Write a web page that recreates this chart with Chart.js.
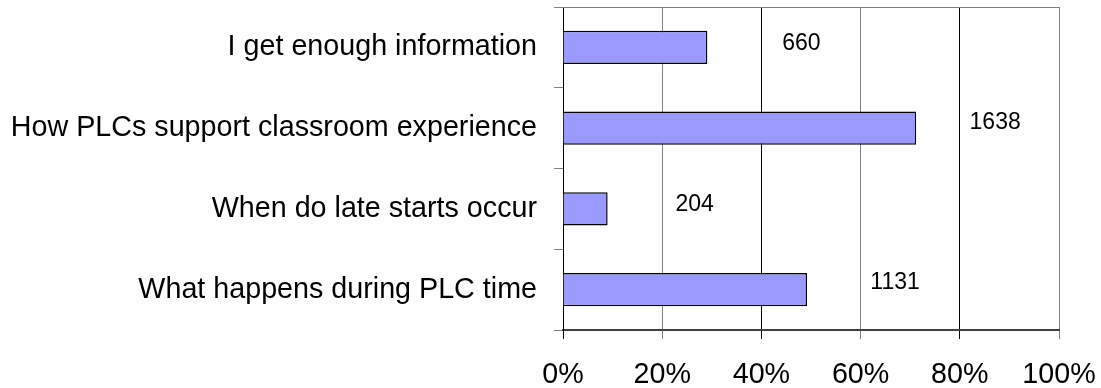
<!DOCTYPE html>
<html>
<head>
<meta charset="utf-8">
<script src="https://cdn.jsdelivr.net/npm/chart.js@4/dist/chart.umd.min.js"></script>
<style>
    body { margin: 0; background: #fff; }
    canvas { display: block; }
</style>
</head>
<body>
<canvas id="plcChart" width="1101" height="388"></canvas>
<script>
// Survey questions, share of respondents (%) and number of responses
const questions = ["I get enough information", "How PLCs support classroom experience", "When do late starts occur", "What happens during PLC time"];
const percentages = [29.1, 71.2, 9.0, 49.2];
const responses = [660, 1638, 204, 1131];
const xTicks = [0, 20, 40, 60, 80, 100];

const fontFamily = "'Liberation Sans', Arial, sans-serif";

// Count labels sit to the right of each bar, nudged a little per row
const countLabels = {
    id: 'countLabels',
    afterDatasetsDraw(chart, args, opts) {
        let ctx = chart.ctx;
        let meta = chart.getDatasetMeta(0);
        ctx.save();
        ctx.font = '23px ' + fontFamily;
        ctx.fillStyle = '#000';
        ctx.textAlign = 'center';
        ctx.textBaseline = 'middle';
        meta.data.forEach((bar, i) => {
            ctx.fillText(String(responses[i]), bar.x + opts.dx[i], bar.y + opts.dy[i]);
        });
        ctx.restore();
    }
};

// Thin grey line closing the top of the plot area
const topBorder = {
    id: 'topBorder',
    afterDraw(chart) {
        let ctx = chart.ctx;
        let area = chart.chartArea;
        ctx.save();
        ctx.strokeStyle = '#808080';
        ctx.lineWidth = 1;
        ctx.beginPath();
        ctx.moveTo(area.left, Math.round(area.top) + 0.5);
        ctx.lineTo(area.right, Math.round(area.top) + 0.5);
        ctx.stroke();
        ctx.restore();
    }
};

// Keep the plot box fixed; labels are allowed to hang over the edges
function noPadding(scale) {
    scale.paddingTop = 0;
    scale.paddingBottom = 0;
    scale.paddingLeft = 0;
    scale.paddingRight = 0;
}

new Chart(document.getElementById('plcChart'), {
    type: 'bar',
    data: {
        labels: questions,
        datasets: [{
            data: percentages,
            backgroundColor: '#9999FF',
            borderColor: '#000',
            borderWidth: 1.5,
            barPercentage: 0.41,
            categoryPercentage: 1
        }]
    },
    options: {
        indexAxis: 'y',
        responsive: false,
        animation: false,
        layout: {
            padding: { top: 7, right: 42, left: 0, bottom: 0 }
        },
        plugins: {
            legend: { display: false },
            tooltip: { enabled: false },
            countLabels: {
                dx: [94, 79, 87, 88],
                dy: [-4, -5, -4, -7]
            }
        },
        scales: {
            x: {
                min: 0,
                max: 100,
                afterBuildTicks: (scale) => {
                    scale.ticks = xTicks.map(v => ({ value: v }));
                },
                afterFit: (scale) => {
                    scale.height = 58;
                    noPadding(scale);
                },
                grid: {
                    color: (c) => c.index % 2 ? '#808080' : '#000',
                    lineWidth: 1,
                    tickLength: 9
                },
                border: { color: '#404040', width: 2 },
                ticks: {
                    color: '#000',
                    padding: 19,
                    maxRotation: 0,
                    font: { family: fontFamily, size: 28.7 },
                    callback: (v) => v + '%'
                }
            },
            y: {
                afterFit: (scale) => {
                    scale.width = 563;
                    noPadding(scale);
                },
                grid: {
                    offset: true,
                    drawOnChartArea: false,
                    color: '#808080',
                    tickLength: 9
                },
                border: { color: '#000', width: 1 },
                ticks: {
                    color: '#000',
                    padding: 17,
                    font: { family: fontFamily, size: 28.7 }
                }
            }
        }
    },
    plugins: [countLabels, topBorder]
});
</script>
</body>
</html>
